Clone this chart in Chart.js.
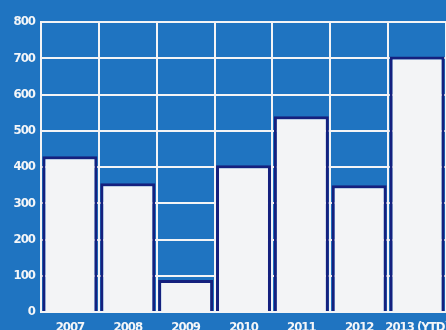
<!DOCTYPE html>
<html>
<head>
<meta charset="utf-8">
<script src="https://cdn.jsdelivr.net/npm/chart.js@4.4.0/dist/chart.umd.min.js"></script>
<style>
  html, body { margin: 0; padding: 0; background: #1f74c1; }
  #wrap { width: 446px; height: 330px; }
</style>
</head>
<body>
<div id="wrap"><canvas id="grafico"></canvas></div>
<script>
// Datos
const anios = ['2007', '2008', '2009', '2010', '2011', '2012', '2013 (YTD)'];
const valores = [430, 355, 88, 405, 540, 350, 705];
const ticksY = [0, 100, 200, 300, 400, 500, 600, 700, 800];

const fuente = { family: "'DejaVu Sans Condensed', 'Liberation Sans', sans-serif", size: 13, weight: 'bold' };

// Letras más juntas, como en la tipografía condensada del original
const espaciado = {
    id: 'espaciado',
    beforeLayout: (chart) => { chart.ctx.letterSpacing = '-1px'; },
    beforeDraw: (chart) => { chart.ctx.letterSpacing = '-1px'; }
};

const ctx = document.getElementById('grafico').getContext('2d');
new Chart(ctx, {
    type: 'bar',
    data: {
        labels: anios,
        datasets: [{
            data: valores,
            backgroundColor: '#f3f4f6',
            borderColor: '#15207e',
            borderWidth: 3,
            borderSkipped: 'start',
            categoryPercentage: 1,
            barPercentage: 0.95
        }]
    },
    options: {
        responsive: true, maintainAspectRatio: false,
        animation: false,
        layout: { padding: { top: 22, left: 0, right: 0, bottom: 0 } },
        plugins: { legend: { display: false }, tooltip: { enabled: false } },
        scales: {
            x: {
                z: 1,
                grid: { color: '#f3f4f6', lineWidth: 2, drawTicks: false, offset: true },
                border: { display: true, color: '#f3f4f6', width: 2 },
                ticks: { color: '#f4f6f8', font: fuente, padding: 8, maxRotation: 0, autoSkip: false },
                afterFit: (s) => { s.height = 18; s.paddingRight = 0; s.paddingLeft = 0; }
            },
            y: {
                z: 1,
                min: 0, max: 800,
                afterBuildTicks: (s) => { s.ticks = ticksY.map(v => ({ value: v })); },
                grid: { color: '#f3f4f6', lineWidth: 2, drawTicks: false },
                border: { display: true, color: '#f3f4f6', width: 2 },
                ticks: { color: '#f4f6f8', font: fuente, padding: 6 },
                afterFit: (s) => { s.width = 41; }
            }
        }
    },
    plugins: [espaciado]
});
</script>
</body>
</html>
